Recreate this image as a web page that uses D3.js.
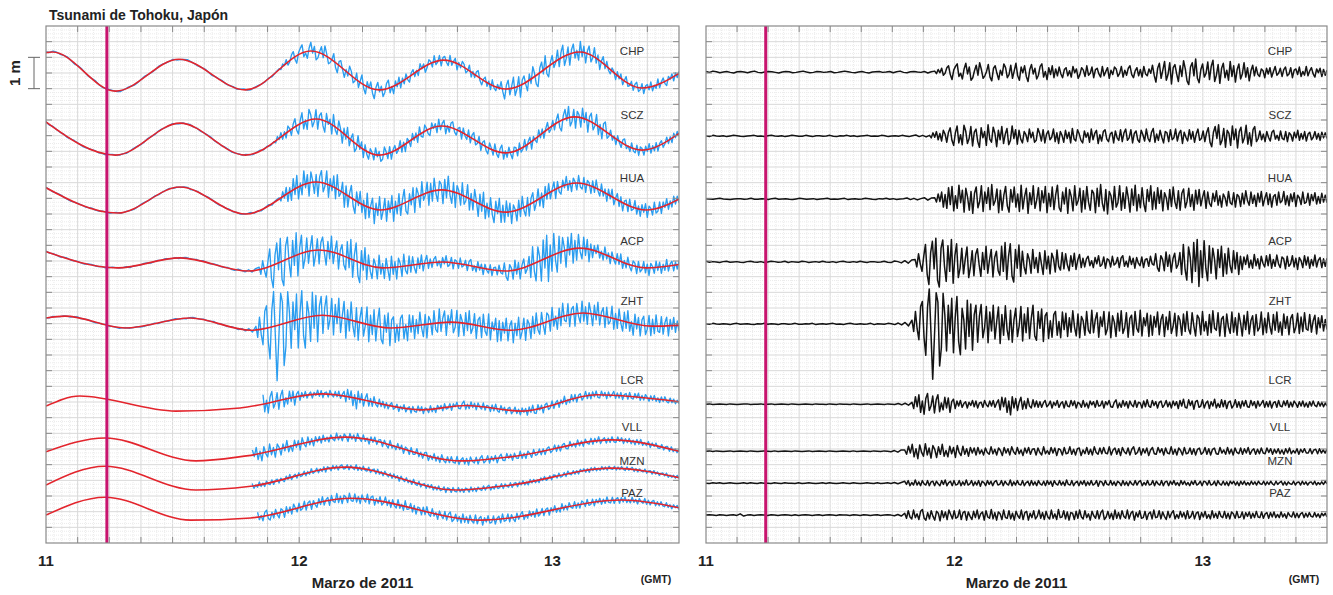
<!DOCTYPE html>
<html><head><meta charset="utf-8">
<script src="https://cdn.jsdelivr.net/npm/d3@7"></script>
<style>body{margin:0;background:#fff}svg{display:block}</style>
</head><body>
<svg id="chart" width="1333" height="595"></svg>
<script>
// ===== Data =====
// time in hours from 11 March 2011 00:00 GMT; sea level in metres, residuals in centimetres
const stations = ["CHP", "SCZ", "HUA", "ACP", "ZHT", "LCR", "VLL", "MZN", "PAZ"];
const dayTickHours = [0, 24, 48];
const dayTickLabels = ["11", "12", "13"];
const quakeHour = 5.77;                 // 05:46 GMT
const endHour = 60;                     // 13 March 12:00
const arrivalHour = [22.1, 21.6, 22.1, 20.2, 19.9, 19.9, 19.2, 19.2, 19.2];
const recordStartHour = [0, 0, 0, 0, 0, 20.5, 19.4, 19.4, 19.9];

// predicted tide: turning points [hour, metres]
const tideCHP = [[0,0.62],[0.6,0.64],[6.6,-0.61],[12.6,0.41],[18.9,-0.57],[25.1,0.67],[31.6,-0.57],[37.7,0.38],[43.6,-0.54],[50.6,0.64],[56.5,-0.51],[60.2,0.0]];
const tideSCZ = [[-0.3,0.52],[6.6,-0.61],[12.7,0.41],[18.9,-0.61],[25.6,0.54],[31.6,-0.61],[37.5,0.32],[43.6,-0.54],[50.1,0.61],[56.5,-0.45],[60.2,0.13]];
const tideHUA = [[-0.5,0.42],[6.8,-0.48],[12.7,0.35],[18.9,-0.51],[25.6,0.51],[31.7,-0.38],[37.5,0.26],[43.6,-0.45],[50.3,0.48],[56.9,-0.38],[60.2,0.0]];
const tideACP = [[-0.5,0.36],[6.8,-0.22],[12.7,0.10],[19.2,-0.32],[25.9,0.35],[31.9,-0.22],[37.6,-0.03],[43.6,-0.32],[50.6,0.41],[56.9,-0.22],[60.2,-0.1]];
const tideZHT = [[0,0.13],[1.8,0.19],[7.5,-0.19],[13.7,0.13],[19.4,-0.26],[26.2,0.22],[32.7,-0.19],[38.4,0.0],[44.1,-0.26],[50.9,0.29],[57.4,-0.13],[60.2,-0.1]];
const tideLCR = [[0,-0.1],[3.2,0.22],[12.3,-0.26],[18.4,-0.16],[26.2,0.29],[35.6,-0.22],[39.8,-0.08],[45.1,-0.26],[52.2,0.26],[60.2,0.03]];
const tideVLL = [[0,-0.06],[5.6,0.38],[14.2,-0.35],[19.0,-0.19],[28.4,0.41],[39.4,-0.35],[44.5,-0.2],[53.6,0.32],[60.2,-0.06]];
const tideMZN = [[0,-0.22],[5.6,0.38],[14.2,-0.38],[19.4,-0.26],[28.4,0.35],[38.9,-0.38],[44.1,-0.22],[53.6,0.32],[60.2,0.0]];
const tidePAZ = [[0,-0.19],[5.6,0.38],[13.7,-0.35],[19.4,-0.28],[28.9,0.35],[41.3,-0.35],[54.6,0.29],[60.2,0.03]];

// residual (observed minus tide), cm: before arrival, then from arrival to the end
const preCHP = [2,-1,3,1,-2,0,2,-1,-3,1,2,0,-2,1,3,-1,-2,0,2,1,-1,-3,0,2,1,-2,-1,1,3,0,-2,-1,2,1,-1,0,2,-2,-1,1,3,1,-1,-2,0,2,-1,-3,0,1,2,-1,0,2,-2,1,3,-1,-2,1,2,0,-1,2,-3,1];
const postCHP = [3,-5,8,-2,12,-10,-4,14,
20,-8,-24,6,18,26,-14,-4,-22,10,28,-6,16,-26,-18,4,22,-10,30,8,-20,-12,2,24,-16,-28,12,20,-4,-24,6,-10,26,14,-18,-8,22,-20,4,28,-12,-26,16,-2,20,-14,-30,8,24,-6,12,-22,-10,18,26,-16,2,-24,14,-8,20,-18,10,-12,
16,-6,-18,8,14,-12,4,-16,18,-2,10,-20,-8,14,6,-14,20,-10,-4,16,-18,8,12,-6,-16,18,-12,2,14,-20,6,-8,16,10,-14,-4,18,-16,6,-10,12,20,-8,-18,4,14,-12,8,-16,18,-6,-12,10,-4,
22,-10,-32,12,28,-20,6,34,-26,-8,30,-38,14,24,-6,-30,20,-14,36,10,-28,-40,16,30,-12,42,-20,-34,8,26,-16,-4,32,-24,18,38,-30,-10,24,-36,12,28,-18,6,-26,34,-14,20,-32,8,26,-22,-6,30,-16,14,-28,4,22,-12,
16,-8,-14,10,4,-18,12,-6,14,-16,2,18,-10,-4,12,-14,8,16,-12,-6,14,-18,6,10,-8,16,-14,2,-10,18,-12,4,14,-6,-16,10,-2,12,-14,8,-10,6];

const preSCZ = [1,-2,2,0,-1,1,-2,0,2,1,-1,-2,0,1,2,-1,0,-2,1,2,0,-1,1,-2,0,2,1,-1,-1,2,0,-2,1,1,-1,0,2,-1,-2,1,0,2,-1,1,-2,0,1,2,-1,0,-1,2,1,-2,0,1,-1,2,0,-2,1,3,-2,2,-3];
const postSCZ = [2,-6,10,-4,14,-12,8,-16,18,6,-20,12,
26,-14,-30,10,32,-22,4,-28,34,16,-24,-8,30,-32,12,22,-18,-36,26,-6,14,-30,36,-10,-20,28,8,-34,18,-12,30,-24,6,24,-28,-14,32,-8,20,-26,
18,-10,-22,14,4,-18,22,-6,12,-20,-14,24,8,-16,20,-22,6,16,-12,-4,22,-18,10,-24,14,2,-20,18,-8,12,-22,24,-10,-16,20,6,-14,-22,16,-4,10,-20,22,-12,8,18,-24,4,-16,14,20,-10,-18,6,12,-22,16,-6,-14,20,
-18,10,22,-14,-6,20,-22,8,16,-12,-20,18,4,-16,22,-8,-18,12,24,-20,6,-14,18,-4,-22,14,10,-18,20,-12,-6,22,-16,8,18,-24,12,-4,-16,20,-10,14,-20,6,22,-14,-8,16,-18,10,
26,-20,-34,12,30,-8,36,-28,-14,24,-36,18,8,-30,32,-12,22,-38,14,28,-22,-6,34,-26,10,-32,20,30,-18,-8,
16,-12,6,-18,14,-4,-16,12,18,-10,2,-14,16,-8,-12,14,-18,10,4,-16,12,-6,18,-14,8,-10,14,-16,6,12,-12,-4,14,-10,8,-14,12,-6,10,-8];

const preHUA = [1,0,-1,1,2,0,-1,-2,0,1,1,-1,0,2,-1,-1,1,0,-2,1,2,-1,0,1,-1,-2,0,2,1,-1,0,1,-2,0,1,2,-1,0,-1,1,2,-2,0,1,-1,0,2,1,-1,-2,1,0,2,-1,1,-2,0,1,3,-2,2,-3,1,4,-4,3];
const postHUA = [4,-10,16,-8,22,-26,14,-30,
36,-18,40,-38,10,-30,44,-12,28,-42,34,6,-36,24,-46,18,38,-28,-8,42,-40,22,-14,36,-34,46,-20,-6,32,-44,28,-36,12,40,-22,-42,30,-10,38,-26,16,-40,44,-32,8,34,-46,20,-18,42,-30,-4,36,-38,26,-12,40,-44,18,-24,
38,-34,14,44,-28,-40,22,-16,36,-46,30,8,-38,42,-20,-6,34,-42,26,-32,40,-10,-36,28,18,-44,34,-24,46,-14,-38,30,-48,24,10,-34,40,-26,-12,42,-36,20,-30,38,4,-42,32,-20,44,-38,14,-28,36,-16,-40,30,-8,42,-34,22,
-32,36,-14,28,-38,20,4,-34,30,-24,38,-10,-30,26,-36,18,32,-28,-8,34,-24,14,-36,28,-16,30,-22,6,26,-30,
22,-14,-24,18,-8,26,-20,10,-26,16,4,-22,24,-12,-18,20,-26,14,8,-24,18,-16,26,-6,-20,22,-14,12,-24,18,-10,24,-22,2,20,-18,16,-26,8,14,-20,22,-12,-6,24,-18,10,-22,16,-8,20,-24,12,4,-18,22,-14,-10,18,-20,14,-6,20,-16,8,-14,18,-10,12,-12];

const preACP = [2,-1,1,0,-2,1,2,-1,0,1,-1,-2,1,2,0,-1,1,-2,0,2,1,-1,0,2,-2,1,0,-1,2,1,-2,0,1,-1,2,0,-1,1,-2,1,2,0,-1,1,-1,2,0,-2,1,1,-1,0,2,-1,-2,3,1,-3,4,-4,6];
const postACP = [8,-16,26,-6,-30,18,
56,-40,-72,30,66,-22,76,-58,-80,44,70,-14,-62,52,-30,72,-68,20,58,-50,
-20,44,-38,10,48,-50,-16,36,-44,24,42,-8,-46,30,-24,50,-36,6,40,-48,14,34,-28,-42,
50,-30,62,-56,18,58,-44,-64,40,-20,54,-46,
34,-16,-38,26,8,-36,40,-20,14,-34,30,-6,-40,36,-22,18,-38,28,10,-32,38,-14,-26,30,
-22,26,-10,-28,20,-14,28,-24,6,24,-18,12,
-16,10,18,-12,4,-18,14,-6,20,-14,-8,16,-20,10,6,-16,18,-10,-4,14,-18,12,20,-14,2,-16,18,-8,12,-20,14,-4,-12,16,-18,8,10,-14,18,-6,-10,
26,-18,-30,20,8,-28,32,-14,22,-32,10,28,-20,-8,30,
-40,56,-24,-58,48,14,-66,62,-30,72,-78,36,-50,68,-20,-60,52,-36,44,10,-54,40,-18,50,-46,26,-38,44,-12,-34,36,-22,30,-40,18,
-24,16,-8,22,-18,6,-20,24,-12,10,-22,18,-4,-16,20,-12,24,-20,8,-14,22,-6,-18,16,10,-22,18,-14,-6,20,-16,12,-24,14,4,-18,20,-10,16,-20,8,-12,22,-16,6,14,-18,10,-14,12];

const preZHT = [1,-1,2,0,-1,1,0,-2,1,2,-1,0,1,-1,-2,1,0,2,-1,1,0,-2,1,1,-1,0,2,-1,-1,1,0,2,-2,0,1,-1,1,2,-1,0,-2,1,2,0,-1,1,-1,0,2,-2,1,0,-1,2,1,-2,3,-3,5,-6];
const postZHT = [12,-24,40,-16,-50,56,72,-44,
-100,54,112,-30,-176,-40,100,70,-134,-76,98,30,
-86,60,-30,82,-92,20,88,-56,-98,50,12,-80,76,-40,64,-84,30,60,
-58,24,62,-44,-12,56,-60,38,-22,60,-48,8,54,-62,30,-36,58,-18,-50,44,-58,14,50,-40,-6,56,-54,32,-28,52,-46,18,60,-38,-52,40,-14,48,-56,26,36,-46,10,
-42,30,40,-36,8,-44,38,-18,34,-40,20,-26,42,-10,-38,32,-44,24,10,-36,40,-20,-30,44,-28,14,36,-42,22,-8,40,-34,-16,38,-44,26,6,-40,34,-22,42,-30,-12,36,-42,18,28,-36,40,-14,-26,44,-38,20,-6,34,-40,28,
-36,24,-10,38,-34,14,30,-40,22,-18,40,-30,-8,34,-38,26,12,-36,32,-24,40,-16,-32,36,-6,-38,28,18,-34,40,-22,8,-36,30,-28,42,-14,-20,36,-38,16,24,-40,32,-10,-30,38,-26,20,-36,34,4,-38,28,-18,40,-32,10,26,-36,30,-22,-12,38,-34,18,-28,36,-8,-32,30,-20,38,-26,6,-36,32,-14,24,-34,18,30,-28,-10,34,-30,22,-24,36,-16,-20,30,-26,10,28,-32,20,-12,26,-22,14,-18];

const preLCR = [0,1,-1,0,1,0,-1,1,0,-1,0,1,1,-1,0,0,1,-1,0,1,-1,0,1,0,-1,1,0,-1,0,1,0,-1,1,0,0,-1,1,0,-1,1,0,0,-1,1,0,-1,0,1,-1,0,1,0,-1,1,0,-1,2,-2,3,-3];
const postLCR = [6,-14,24,-8,30,-26,10,-32,18,34,-20,-6,26,-28,14,30,-24,4,-18,22,-12,20,-26,8,16,-14,
10,-6,12,-10,2,8,-12,6,-4,12,-8,10,-12,4,6,-10,12,-2,-8,10,-6,12,-10,4,
14,-18,22,-8,20,-26,10,-34,24,-12,18,-20,6,22,-16,10,-14,18,-6,-12,14,-8,10,-10,
8,-10,4,12,-8,-2,10,-12,6,-4,12,-10,2,8,-12,10,-6,-8,12,-4,10,-12,6,2,-10,12,-8,4,-12,10,-2,8,-10,12,-6,-4,10,-12,8,-2,
12,-8,-10,6,14,-12,4,-10,12,-6,8,-12,10,-2,-8,12,-10,6,4,-12,10,-8,14,-6,-10,12,-4,8,-12,6,10,-10,-2,12,-8,6,-12,10,-4,8,
-14,12,-6,16,-10,-12,14,-4,10,-16,8,12,-10,-6,14,-12,4,10,-14,8,-6,16,-12,2,-10,14,-8,12,-14,6,10,-12,-4,14,-10,8,-12,10,-6,12,
-8,-10,12,-4,8,-12,10,-6,2,12,-10,8,-8,10,-12,4,8,-10,12,-6,-8,10,-4,12,-10,6,-8,10,2,-10,8,-6,10,-8,4,-10,8,-6,10,-4,-8,8,-6,6,-8,4,-6];

const preVLL = [0,1,-1,1,0,-1,0,1,-1,0,1,0,-1,1,0,-1,0,1,0,-1,1,-1,0,1,0,-1,1,0,-1,0,1,-1,0,1,0,-1,1,0,-1,0,1,0,-1,1,-1,0,1,0,-1,1,0,-1,1,0,-2,2,-3,4];
const postVLL = [4,-10,16,-6,22,-18,8,-24,20,-4,-16,24,-12,10,-22,18,6,-20,14,-10,22,-16,2,-18,16,-8,12,-20,18,-4,-14,16,-10,8,-16,12,-6,10,-12,
12,-8,4,-12,10,-4,-10,14,-8,6,-12,10,2,-14,12,-6,8,-12,14,-2,-10,12,-8,4,-14,10,-6,12,-10,6,8,-12,10,-4,-12,14,-8,2,-10,12,
-6,10,-14,8,4,-12,12,-8,-6,14,-10,6,-12,8,10,-14,4,-8,12,-10,6,-12,14,-4,-10,10,-8,12,-6,-8,14,-12,4,10,-10,8,-14,12,-2,-8,
10,-12,6,14,-10,-4,12,-12,8,-6,10,-14,4,12,-8,-10,12,-4,8,-12,10,-6,-8,14,-10,6,-12,10,2,-12,12,-8,-6,10,-10,8,-12,6,10,-10,
-4,12,-10,8,-12,6,10,-8,-10,12,-6,4,-10,12,-8,6,-12,10,-4,-8,10,-10,8,-6,12,-10,2,8,-10,6,-8,10,-6,-8,10,-4,8,-10,6,-6,
8,-8,4,-10,8,-6,10,-8,2,-6,8,-10,6,-4,8,-6,-6,8,-8,4,6,-8,8,-6,4,-6,6];

const preMZN = [0,-1,1,0,1,-1,0,1,0,-1,0,1,-1,1,0,-1,1,0,0,-1,1,0,-1,1,0,0,-1,1,-1,0,1,0,-1,0,1,-1,1,0,-1,0,1,0,-1,1,0,-1,0,1,0,-1,1,-1,0,1,-1,2,-2,2];
const postMZN = [6,-4,8,-8,2,-6,10,-6,4,-8,8,-2,-6,8,-8,4,6,-8,6,-2,-8,8,-4,10,-8,2,6,-8,8,-6,-4,8,-8,4,-6,10,-6,-2,8,-8,
4,-6,8,-10,6,2,-8,8,-4,6,-8,4,8,-6,-4,8,-8,6,-2,-6,10,-8,4,-6,8,-4,-6,8,-8,2,6,-8,8,-6,4,-8,8,-2,-6,6,
-8,8,-4,6,-10,8,-2,-6,8,-6,4,-8,10,-4,-6,8,-8,2,6,-8,6,-4,8,-8,4,-6,8,-6,-2,8,-10,6,4,-8,8,-4,-6,8,-6,4,
-8,6,2,-8,8,-6,4,-8,6,-2,-6,8,-6,4,8,-8,2,-6,8,-6,-4,8,-8,6,-2,-6,8,-8,4,6,-8,6,-4,8,-6,2,-8,8,-4,6,
-6,2,-8,6,-4,8,-6,-2,6,-8,6,4,-6,8,-6,-4,6,-8,8,-2,-6,6,-6,4,-8,6,-2,6,-6,4,-8,6,-4,6,-6,2,-6,6,-4,4,
-6,6,-2,-4,6,-6,4,-4,6,-2,-6,6,-4,2,6,-6,4,-6,4,-2,-4,6,-6,2,4,-6,6,-4,4,-6,2,4,-4,6,-6,2,-4,4,-4,6,-2];

const prePAZ = [0,1,0,-1,1,0,-1,0,1,-1,4,-3,0,1,-1,0,1,0,-1,1,0,-1,0,1,0,-1,1,-1,0,1,0,-1,0,1,-1,0,1,0,-1,1,0,0,-1,1,0,-1,1,0,-1,0,1,-1,0,1,0,-2,2,-3];
const postPAZ = [6,-10,14,-6,-12,16,-8,4,-14,12,18,-10,-16,8,-12,14,-4,-16,12,6,-18,14,-8,10,-14,16,2,-12,14,-10,-6,16,-14,8,12,-16,10,-4,-14,12,
-8,16,-12,4,10,-16,14,-6,-10,18,-12,8,-16,10,4,-14,16,-8,-10,14,-12,6,-16,12,-2,-10,16,-14,8,12,-16,6,-8,14,-12,-4,16,-10,8,-14,
12,-6,-12,16,-10,4,-14,18,-8,-6,14,-12,10,-16,8,6,-14,12,-10,16,-6,-12,14,-8,4,-16,12,-2,-10,14,-12,8,16,-14,-6,12,-10,6,-14,16,
-10,8,-12,14,-4,-10,16,-12,6,12,-16,8,-6,14,-10,-8,12,-14,4,10,-12,16,-8,-6,14,-12,10,-4,-14,12,-8,6,14,-12,2,-10,12,-6,8,-12,
14,-10,-4,12,-12,6,10,-14,8,-6,12,-10,2,-12,14,-8,6,-10,12,-4,-8,12,-10,6,-12,10,4,-10,12,-8,-6,10,-12,8,-4,10,-10,6,-8,12,
-6,-8,10,-10,4,8,-10,8,-6,10,-8,2,-8,10,-6,4,-10,8,-2,-6,10,-8,6,-8,4,8,-8,6,-6,8,-4,-6,8,-6,4,-8,6,-2,6,-6];

const tides = [tideCHP, tideSCZ, tideHUA, tideACP, tideZHT, tideLCR, tideVLL, tideMZN, tidePAZ];
const preResid = [preCHP, preSCZ, preHUA, preACP, preZHT, preLCR, preVLL, preMZN, prePAZ];
const postResid = [postCHP, postSCZ, postHUA, postACP, postZHT, postLCR, postVLL, postMZN, postPAZ];

// ===== Layout =====
const W = 1333, H = 595, plotTop = 26, plotBottom = 543;
const panels = [
  {x0: 46, x1: 679, rows: [1.47, 3.51, 5.49, 7.50, 9.45, 12.03, 13.53, 14.43, 15.42], raw: true},
  {x0: 706, x1: 1327, rows: [1.47, 3.51, 5.52, 7.53, 9.51, 12.07, 13.57, 14.59, 15.61], raw: false}
];
const labelY = [52, 116, 179, 242, 302, 381, 428, 462, 494];
const font = "'Liberation Sans', Arial, Helvetica, sans-serif";
const C = {blue: "#2a9df0", red: "#e3242c", black: "#141414", quake: "#c8146e",
           frame: "#8a8a8a", gridMinor: "#ebebeb", gridMajor: "#d9d9d9", text: "#222"};

const svg = d3.select("#chart");
svg.append("rect").attr("width", W).attr("height", H).attr("fill", "#fff");

// y: metres measured downward from the top of the frame
const y = d3.scaleLinear().domain([0, 16.5]).range([plotTop, plotBottom]);

// evaluates the same cubic that d3.curveMonotoneX draws through the tide turning points
function monotoneFn(pts) {
  const n = pts.length, xs = pts.map(p => p[0]), ys = pts.map(p => p[1]);
  const sgn = v => v < 0 ? -1 : 1;
  const m = new Array(n).fill(0);
  for (let i = 1; i < n - 1; i++) {
    const h0 = xs[i] - xs[i - 1], h1 = xs[i + 1] - xs[i];
    const s0 = (ys[i] - ys[i - 1]) / h0, s1 = (ys[i + 1] - ys[i]) / h1;
    const p = (s0 * h1 + s1 * h0) / (h0 + h1);
    m[i] = (sgn(s0) + sgn(s1)) * Math.min(Math.abs(s0), Math.abs(s1), 0.5 * Math.abs(p)) || 0;
  }
  m[0] = (3 * (ys[1] - ys[0]) / (xs[1] - xs[0]) - m[1]) / 2;
  m[n - 1] = (3 * (ys[n - 1] - ys[n - 2]) / (xs[n - 1] - xs[n - 2]) - m[n - 2]) / 2;
  return t => {
    let i = d3.bisectRight(xs, t) - 1;
    i = Math.max(0, Math.min(n - 2, i));
    const h = xs[i + 1] - xs[i], u = (t - xs[i]) / h, d = h / 3;
    const p0 = ys[i], p1 = ys[i] + d * m[i], p2 = ys[i + 1] - d * m[i + 1], p3 = ys[i + 1];
    const v = 1 - u;
    return v * v * v * p0 + 3 * v * v * u * p1 + 3 * v * u * u * p2 + u * u * u * p3;
  };
}

// residual samples spread evenly over [0, arrival) and [arrival, end]
function residualSeries(k) {
  const a = arrivalHour[k], pre = preResid[k], post = postResid[k];
  const out = pre.map((v, i) => [i * a / pre.length, v / 100]);
  post.forEach((v, i) => out.push([a + i * (endHour - a) / (post.length - 1), v / 100]));
  return out;
}

panels.forEach((P, pi) => {
  const x = d3.scaleLinear().domain([0, endHour]).range([P.x0, P.x1]);
  const g = svg.append("g");
  const clipId = "clip" + pi;
  svg.append("clipPath").attr("id", clipId).append("rect")
    .attr("x", P.x0).attr("y", plotTop).attr("width", P.x1 - P.x0).attr("height", plotBottom - plotTop);

  // fine grid
  const grid = g.append("g");
  d3.range(0.75, endHour, 0.75).forEach(h => {
    const major = Math.abs(h / 3 - Math.round(h / 3)) < 1e-6;
    grid.append("line").attr("x1", x(h)).attr("x2", x(h)).attr("y1", plotTop).attr("y2", plotBottom)
      .attr("stroke", major ? C.gridMajor : C.gridMinor).attr("stroke-width", 1)
      .attr("stroke-dasharray", major ? null : "1,1");
  });
  d3.range(0.125, 16.5, 0.125).forEach(v => {
    const major = Math.abs(v * 2 - Math.round(v * 2)) < 1e-6;
    grid.append("line").attr("x1", P.x0).attr("x2", P.x1).attr("y1", y(v)).attr("y2", y(v))
      .attr("stroke", major ? C.gridMajor : C.gridMinor).attr("stroke-width", 1)
      .attr("stroke-dasharray", major ? null : "1,1");
  });

  const plot = g.append("g").attr("clip-path", `url(#${clipId})`);
  const line = d3.line().x(d => x(d[0])).y(d => d[1]);

  stations.forEach((name, k) => {
    const lev = P.rows[k];
    const resid = residualSeries(k);
    if (P.raw) {
      const tide = monotoneFn(tides[k]);
      const obs = resid.filter(d => d[0] >= recordStartHour[k])
        .map(d => [d[0], y(lev - (tide(d[0]) + d[1]))]);
      plot.append("path").attr("d", line(obs)).attr("fill", "none")
        .attr("stroke", C.blue).attr("stroke-width", 1.35).attr("stroke-linejoin", "round");
      plot.append("path")
        .attr("d", d3.line().curve(d3.curveMonotoneX).x(d => x(d[0])).y(d => y(lev - d[1]))(tides[k]))
        .attr("fill", "none").attr("stroke", C.red).attr("stroke-width", 1.6);
    } else {
      plot.append("path").attr("d", line(resid.map(d => [d[0], y(lev - d[1])])))
        .attr("fill", "none").attr("stroke", C.black).attr("stroke-width", 1.5)
        .attr("stroke-linejoin", "round");
    }
    g.append("text").attr("x", P.x1 - 47).attr("y", labelY[k]).attr("text-anchor", "middle")
      .attr("dominant-baseline", "middle").attr("font-family", font).attr("font-size", 11.5)
      .attr("fill", "#333").text(name);
  });

  // earthquake time
  g.append("line").attr("x1", x(quakeHour)).attr("x2", x(quakeHour)).attr("y1", plotTop).attr("y2", plotBottom)
    .attr("stroke", C.quake).attr("stroke-width", 3);

  // frame and inward ticks
  g.append("rect").attr("x", P.x0).attr("y", plotTop).attr("width", P.x1 - P.x0).attr("height", plotBottom - plotTop)
    .attr("fill", "none").attr("stroke", C.frame).attr("stroke-width", 1.2);
  const ticks = g.append("g").attr("stroke", C.frame).attr("stroke-width", 1);
  d3.range(3, endHour, 3).forEach(h => {
    ticks.append("line").attr("x1", x(h)).attr("x2", x(h)).attr("y1", plotTop).attr("y2", plotTop + 6);
    ticks.append("line").attr("x1", x(h)).attr("x2", x(h)).attr("y1", plotBottom).attr("y2", plotBottom - 6);
  });
  d3.range(0.5, 16.5, 0.5).forEach(v => {
    ticks.append("line").attr("x1", P.x0).attr("x2", P.x0 + 6).attr("y1", y(v)).attr("y2", y(v));
    ticks.append("line").attr("x1", P.x1).attr("x2", P.x1 - 6).attr("y1", y(v)).attr("y2", y(v));
  });

  // day labels
  dayTickHours.forEach((h, i) => {
    g.append("text").attr("x", x(h)).attr("y", 566).attr("text-anchor", "middle")
      .attr("font-family", font).attr("font-weight", "bold").attr("font-size", 15)
      .attr("fill", C.text).text(dayTickLabels[i]);
  });
  g.append("text").attr("x", (P.x0 + P.x1) / 2).attr("y", 588).attr("text-anchor", "middle")
    .attr("font-family", font).attr("font-weight", "bold").attr("font-size", 15)
    .attr("fill", C.text).text("Marzo de 2011");
  g.append("text").attr("x", P.x1 - 23).attr("y", 583).attr("text-anchor", "middle")
    .attr("font-family", font).attr("font-weight", "bold").attr("font-size", 10.5)
    .attr("fill", C.text).text("(GMT)");
});

// title
svg.append("text").attr("x", 49).attr("y", 20).attr("font-family", font).attr("font-weight", "bold")
  .attr("font-size", 14).attr("fill", C.text).text("Tsunami de Tohoku, Japón");

// 1 m scale bar
const sb = svg.append("g").attr("stroke", "#666").attr("stroke-width", 1);
sb.append("line").attr("x1", 34).attr("x2", 34).attr("y1", y(1)).attr("y2", y(2));
sb.append("line").attr("x1", 28).attr("x2", 40).attr("y1", y(1)).attr("y2", y(1));
sb.append("line").attr("x1", 28).attr("x2", 40).attr("y1", y(2)).attr("y2", y(2));
svg.append("text").attr("transform", `translate(20,${y(1.5)}) rotate(-90)`).attr("text-anchor", "middle")
  .attr("font-family", font).attr("font-weight", "bold").attr("font-size", 15).attr("fill", C.text).text("1 m");
</script>
</body></html>
